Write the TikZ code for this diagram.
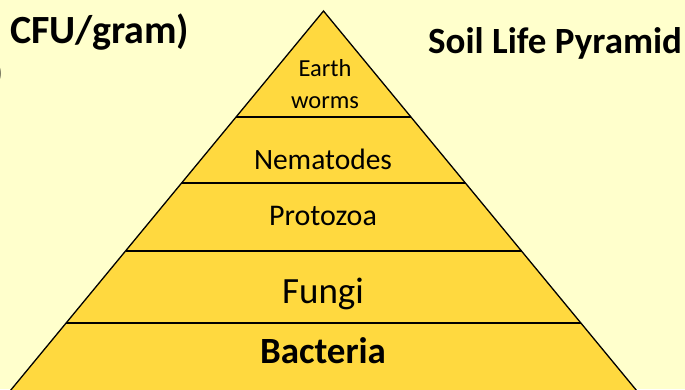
\documentclass[tikz,border=0pt]{standalone}
\usepackage{fontspec}
\setmainfont{Carlito}
\definecolor{bgyellow}{HTML}{FFFFCC}
\definecolor{pyrgold}{HTML}{FFD93F}
\begin{document}
\begin{tikzpicture}[x=1pt,y=-1pt,
  layerline/.style={draw=black,line width=1.3pt},
  label/.style={anchor=base,inner sep=0pt,text=black},
  title/.style={anchor=base west,inner sep=0pt,text=black}]
\useasboundingbox (0,0) rectangle (685,389);
\clip (0,0) rectangle (685,389);
\fill[bgyellow] (0,0) rectangle (685,389);
% pyramid corners
\coordinate (apex) at (323.5,11);
\coordinate (bl) at (2.6,400);
\coordinate (br) at (644.4,400);
\filldraw[fill=pyrgold,draw=black,line width=1.3pt] (apex) -- (br) -- (bl) -- cycle;
% divider end points
\coordinate (l1) at (236.05,117); \coordinate (r1) at (410.95,117);
\coordinate (l2) at (181.6,183);  \coordinate (r2) at (465.4,183);
\coordinate (l3) at (125.5,251);  \coordinate (r3) at (521.5,251);
\coordinate (l4) at (66.1,323);   \coordinate (r4) at (580.9,323);
\draw[layerline] (l1) -- (r1);
\draw[layerline] (l2) -- (r2);
\draw[layerline] (l3) -- (r3);
\draw[layerline] (l4) -- (r4);
% labels
\node[label,font=\fontsize{24.5}{28}\selectfont] (earth) at (325,76) {Earth};
\node[label,font=\fontsize{24.5}{28}\selectfont] (worms) at (325,108) {worms};
\node[label,font=\fontsize{29.5}{33}\selectfont] (nema) at (323,169) {Nematodes};
\node[label,font=\fontsize{30}{34}\selectfont] (proto) at (323,225) {Protozoa};
\node[label,font=\fontsize{37}{40}\selectfont] (fungi) at (323,303) {Fungi};
\node[label,font=\fontsize{37}{40}\selectfont\bfseries] (bact) at (323,363) {Bacteria};
% titles
\node[title,font=\fontsize{40}{44}\selectfont\bfseries] (cfu) at (10,43) {CFU/gram)};
\node[title,font=\fontsize{37}{40}\selectfont\bfseries] (soil) at (428,53) {Soil Life Pyramid};
\node[anchor=east,inner sep=0pt,font=\fontsize{36}{40}\selectfont\bfseries] (paren) at (3,74) {)};
\end{tikzpicture}
\end{document}
